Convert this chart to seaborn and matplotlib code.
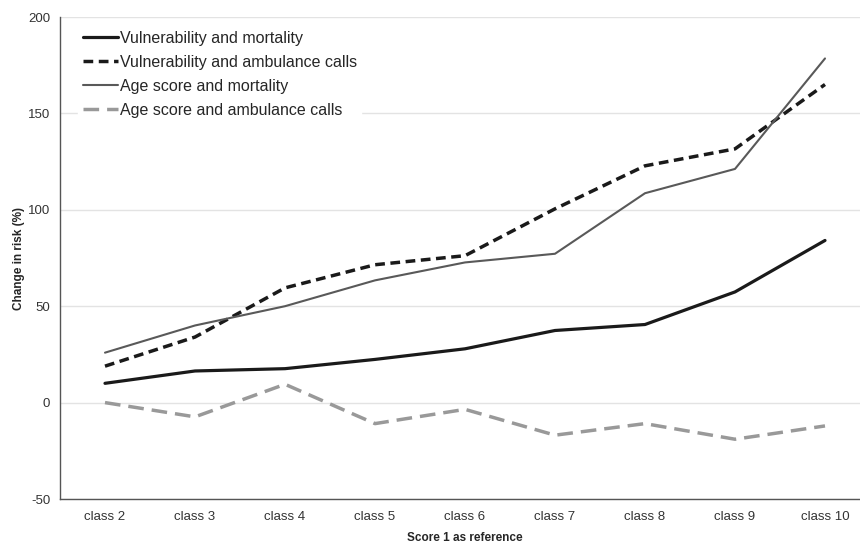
import pandas as pd
import matplotlib.pyplot as plt
import seaborn as sns
from matplotlib.ticker import FixedLocator

# Data
classes = ["class 2", "class 3", "class 4", "class 5", "class 6",
           "class 7", "class 8", "class 9", "class 10"]
vuln_mortality = [10, 16.4, 17.6, 22.4, 27.9, 37.4, 40.5, 57.4, 84.1]
vuln_ambulance = [18.9, 34, 59.5, 71.5, 76.2, 100.5, 122.8, 131.6, 165]
age_mortality = [25.9, 40, 50, 63.4, 72.7, 77.2, 108.6, 121.2, 178.5]
age_ambulance = [0, -7.4, 9.5, -10.9, -3.5, -16.9, -10.9, -19, -12.1]


def main():
    sns.set_style("white")
    plt.rcParams["font.family"] = ["Liberation Sans", "DejaVu Sans"]
    plt.rcParams["axes.unicode_minus"] = False

    fig = plt.figure(figsize=(8.6, 5.43), dpi=100)
    ax = fig.add_axes([60 / 860, 44 / 543, 810 / 860, 482 / 543])

    x = list(range(len(classes)))
    series = [
        ("Vulnerability and mortality", vuln_mortality, "#1a1a1a", 2.3, None),
        ("Vulnerability and ambulance calls", vuln_ambulance, "#1a1a1a", 2.5, (2.8, 1.6)),
        ("Age score and mortality", age_mortality, "#595959", 1.5, None),
        ("Age score and ambulance calls", age_ambulance, "#999999", 2.5, (4.5, 2.3)),
    ]
    for label, vals, color, lw, dashes in series:
        sns.lineplot(x=x, y=vals, ax=ax, color=color, linewidth=lw, label=label)
        ln = ax.get_lines()[-1]
        if dashes is not None:
            ln.set_dashes(dashes)

    ax.set_xlim(-0.5, len(classes) - 0.5)
    ax.set_ylim(-50, 200)
    ax.set_yticks([-50, 0, 50, 100, 150, 200])
    ax.set_xticks(x)
    ax.set_xticklabels(classes)
    ax.xaxis.set_minor_locator(FixedLocator([i - 0.5 for i in range(len(classes) + 1)]))
    ax.tick_params(axis="x", which="major", length=0, labelsize=9.5, colors="#333333", pad=9)
    ax.tick_params(axis="x", which="minor", length=5, width=1, color="#555555", direction="out")
    ax.tick_params(axis="y", which="major", length=4, width=1, color="#555555",
                   direction="out", labelsize=9.5, labelcolor="#333333", pad=3)

    ax.grid(axis="y", color="#e3e3e3", linewidth=1)
    ax.set_axisbelow(True)
    for side in ["top", "right"]:
        ax.spines[side].set_visible(False)
    for side in ["left", "bottom"]:
        ax.spines[side].set_color("#555555")
        ax.spines[side].set_linewidth(1)

    ax.set_xlabel("Score 1 as reference", fontsize=8.5, fontweight="bold", labelpad=6)
    ax.set_ylabel("Change in risk (%)", fontsize=8.5, fontweight="bold", labelpad=2)

    leg = ax.legend(loc="upper left", bbox_to_anchor=(70 / 860, 1 - 18 / 543),
                    bbox_transform=fig.transFigure, frameon=True, fontsize=11.5,
                    handlelength=2.2, handletextpad=0.1, labelspacing=0.56,
                    borderpad=0.3, fancybox=False)
    leg.get_frame().set_edgecolor("white")
    leg.get_frame().set_facecolor("white")
    leg.get_frame().set_alpha(1)

    fig.savefig("out.png", dpi=100)


if __name__ == "__main__":
    main()
